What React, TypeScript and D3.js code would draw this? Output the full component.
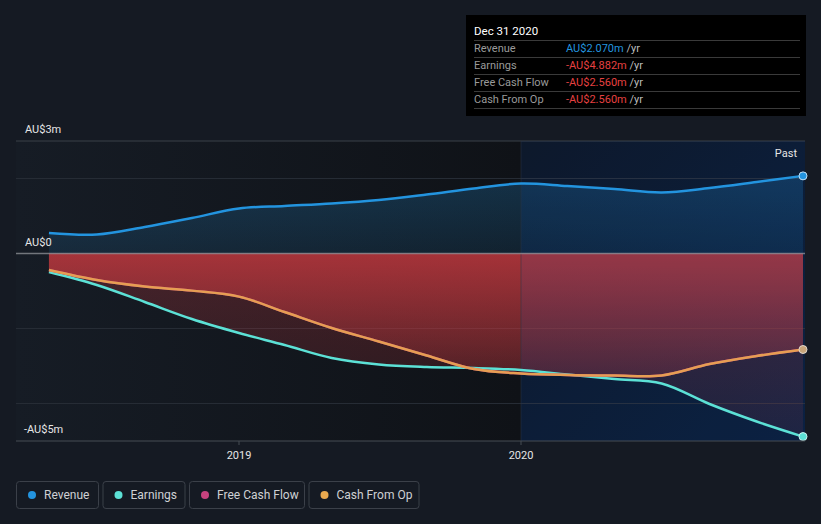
import React from "react";
import * as d3 from "d3";

const dates = [
  "2018-04-30", "2018-07-01", "2018-09-01", "2018-11-01", "2019-01-01", "2019-03-01",
  "2019-05-01", "2019-07-01", "2019-09-01", "2019-11-01", "2020-01-01", "2020-03-01",
  "2020-05-01", "2020-07-01", "2020-09-01", "2020-11-01", "2020-12-31",
];
const revenue = [0.547, 0.507, 0.707, 0.947, 1.2, 1.267, 1.333, 1.427, 1.573, 1.733, 1.867, 1.8, 1.72, 1.627, 1.747, 1.907, 2.07];
const earnings = [-0.493, -0.84, -1.293, -1.747, -2.12, -2.44, -2.787, -2.96, -3.027, -3.053, -3.107, -3.227, -3.347, -3.467, -4.013, -4.48, -4.882];
const cashFromOp = [-0.44, -0.707, -0.88, -0.99, -1.15, -1.56, -1.987, -2.347, -2.72, -3.08, -3.2, -3.24, -3.253, -3.253, -2.947, -2.733, -2.56];
const freeCashFlow = [-0.44, -0.707, -0.88, -0.99, -1.15, -1.56, -1.987, -2.347, -2.72, -3.08, -3.2, -3.24, -3.253, -3.253, -2.947, -2.733, -2.56];

const yTicks = [
  { v: 3, label: "AU$3m" },
  { v: 0, label: "AU$0" },
  { v: -5, label: "-AU$5m" },
];
const gridValues = [2, -2, -4];
const xTickLabels = ["2019", "2020"];
const pastStart = "2020-01-01";

const legend = [
  { name: "Revenue", color: "#2394df" },
  { name: "Earnings", color: "#5ce1d6" },
  { name: "Free Cash Flow", color: "#c7427e" },
  { name: "Cash From Op", color: "#e9a94f" },
];
const tooltipTitle = "Dec 31 2020";
const tooltipRows = [
  { label: "Revenue", value: "AU$2.070m", color: "#2394df" },
  { label: "Earnings", value: "-AU$4.882m", color: "#e64141" },
  { label: "Free Cash Flow", value: "-AU$2.560m", color: "#e64141" },
  { label: "Cash From Op", value: "-AU$2.560m", color: "#e64141" },
];

const W = 821;
const H = 524;
const FONT = "Roboto, 'Noto Sans', sans-serif";

export default function App() {
  const parse = d3.utcParse("%Y-%m-%d");
  const ds = dates.map((d) => parse(d) as Date);
  const x = d3
    .scaleUtc()
    .domain([parse("2019-01-01") as Date, parse("2020-01-01") as Date])
    .range([239, 521]);
  const y = d3.scaleLinear().domain([-5, 3]).range([441, 141]);
  const left = 16;
  const right = 805;
  const xPast = x(parse(pastStart) as Date);
  const xEnd = x(ds[ds.length - 1]);

  const mk = (vals: number[]) => vals.map((v, i) => ({ d: ds[i], v }));
  const curve = d3.curveCatmullRom.alpha(0.5);
  const line = d3
    .line<{ d: Date; v: number }>()
    .x((p) => x(p.d))
    .y((p) => y(p.v))
    .curve(curve);
  const area = d3
    .area<{ d: Date; v: number }>()
    .x((p) => x(p.d))
    .y0(y(0))
    .y1((p) => y(p.v))
    .curve(curve);

  const rev = mk(revenue);
  const earn = mk(earnings);
  const cfo = mk(cashFromOp);
  const fcf = mk(freeCashFlow);

  const legendWidths = [82, 82, 115, 110];
  let lx = 16;
  const legendItems = legend.map((l, i) => {
    const item = { ...l, x: lx, w: legendWidths[i] };
    lx += legendWidths[i] + 4.5;
    return item;
  });

  const last = ds.length - 1;

  return (
    <div style={{ position: "fixed", left: 0, top: 0, width: W, height: H }}>
      <svg width={W} height={H} style={{ display: "block", fontFamily: FONT }}>
        <defs>
          <linearGradient id="leftBg" x1="0" x2="1" y1="0" y2="0">
            <stop offset="0" stopColor="#161c25" />
            <stop offset="1" stopColor="#0f1217" />
          </linearGradient>
          <linearGradient id="pastBg" x1="0" x2="1" y1="0" y2="1">
            <stop offset="0" stopColor="#08101b" />
            <stop offset="1" stopColor="#061a36" />
          </linearGradient>
          <linearGradient id="revFill" gradientUnits="userSpaceOnUse" x1="0" x2="0" y1={y(2)} y2={y(0)}>
            <stop offset="0" stopColor="#2394df" stopOpacity={0.24} />
            <stop offset="1" stopColor="#2394df" stopOpacity={0.12} />
          </linearGradient>
          <linearGradient id="cfoFill" gradientUnits="userSpaceOnUse" x1="0" x2="0" y1={y(0)} y2={y(-3.4)}>
            <stop offset="0" stopColor="#c0383e" stopOpacity={0.78} />
            <stop offset="1" stopColor="#c0383e" stopOpacity={0.2} />
          </linearGradient>
          <linearGradient id="earnFill" gradientUnits="userSpaceOnUse" x1="0" x2="0" y1={y(0)} y2={y(-4.8)}>
            <stop offset="0" stopColor="#c0383e" stopOpacity={0.3} />
            <stop offset="1" stopColor="#c0383e" stopOpacity={0.12} />
          </linearGradient>
        </defs>

        <rect x={0} y={0} width={W} height={H} fill="#151a23" />
        <rect x={left} y={y(3)} width={xPast - left} height={y(-5) - y(3)} fill="url(#leftBg)" />
        <rect x={xPast} y={y(3)} width={right - xPast} height={y(-5) - y(3)} fill="url(#pastBg)" />

        {gridValues.map((g) => (
          <line key={g} x1={left} x2={right} y1={y(g)} y2={y(g)} stroke="#262c35" strokeWidth={1} />
        ))}
        <line x1={left} x2={right} y1={y(3)} y2={y(3)} stroke="#3b4049" strokeWidth={1} />

        <path d={area(rev) || ""} fill="url(#revFill)" />
        <path d={area(earn) || ""} fill="url(#earnFill)" />
        <path d={area(cfo) || ""} fill="url(#cfoFill)" />

        <rect x={xPast} y={y(3)} width={right - xPast} height={y(-5) - y(3)} fill="rgb(51,90,168)" opacity={0.12} />
        <line x1={xPast} x2={xPast} y1={y(3)} y2={y(-5)} stroke="#2a3445" strokeWidth={1} opacity={0.5} />

        <line x1={left} x2={right} y1={y(0)} y2={y(0)} stroke="#9a9ca2" strokeWidth={1.5} opacity={0.7} />

        <path d={line(rev) || ""} fill="none" stroke="#2394df" strokeWidth={2.5} />
        <path d={line(earn) || ""} fill="none" stroke="#5ce1d6" strokeWidth={2.5} />
        <path d={line(fcf) || ""} fill="none" stroke="#c7427e" strokeWidth={2.5} />
        <path d={line(cfo) || ""} fill="none" stroke="#e9a94f" strokeWidth={2.5} opacity={0.9} />

        <circle cx={xEnd} cy={y(revenue[last])} r={4} fill="#2394df" stroke="#bfe0f7" strokeWidth={1} />
        <circle cx={xEnd} cy={y(cashFromOp[last])} r={4} fill="#c8a57a" stroke="#e0d6cc" strokeWidth={1} />
        <circle cx={xEnd} cy={y(earnings[last])} r={4} fill="#5ce1d6" stroke="#c9f3ef" strokeWidth={1} />

        <line x1={left} x2={right} y1={y(-5)} y2={y(-5)} stroke="#474c55" strokeWidth={1} />
        {xTickLabels.map((t) => {
          const tx = x(parse(`${t}-01-01`) as Date);
          return (
            <g key={t}>
              <line x1={tx} x2={tx} y1={y(-5)} y2={y(-5) + 4} stroke="#474c55" strokeWidth={1} />
              <text x={tx} y={459} fill="#e6e6e6" fontSize={11} textAnchor="middle">
                {t}
              </text>
            </g>
          );
        })}

        {yTicks.map((t) => (
          <text key={t.v} x={t.v < 0 ? 24 : 25} y={y(t.v) - 8} fill="#e6e6e6" fontSize={11}>
            {t.label}
          </text>
        ))}

        <text x={797} y={157} fill="#e6e6e6" fontSize={11} textAnchor="end">
          Past
        </text>

        <rect x={466} y={15} width={340} height={101} fill="#000000" />
        <text x={474} y={35} fill="#ffffff" fontSize={11.5}>
          {tooltipTitle}
        </text>
        {tooltipRows.map((r, i) => {
          const top = 40.5 + i * 17;
          return (
            <g key={r.label}>
              <line x1={474} x2={800} y1={top} y2={top} stroke="#3a3a3a" strokeWidth={1} />
              <text x={474} y={top + 11.5} fill="#9a9a9a" fontSize={11}>
                {r.label}
              </text>
              <text x={566} y={top + 11.5} fontSize={11}>
                <tspan fill={r.color}>{r.value}</tspan>
                <tspan fill="#bdbdbd"> /yr</tspan>
              </text>
            </g>
          );
        })}
        <line x1={474} x2={800} y1={108.5} y2={108.5} stroke="#3a3a3a" strokeWidth={1} />

        {legendItems.map((l) => (
          <g key={l.name}>
            <rect x={l.x + 0.5} y={481.5} width={l.w} height={27} rx={3} fill="none" stroke="#3b4049" strokeWidth={1} />
            <circle cx={l.x + 16} cy={495} r={4} fill={l.color} />
            <text x={l.x + 28} y={499} fill="#cfd1d4" fontSize={12}>
              {l.name}
            </text>
          </g>
        ))}
      </svg>
    </div>
  );
}
